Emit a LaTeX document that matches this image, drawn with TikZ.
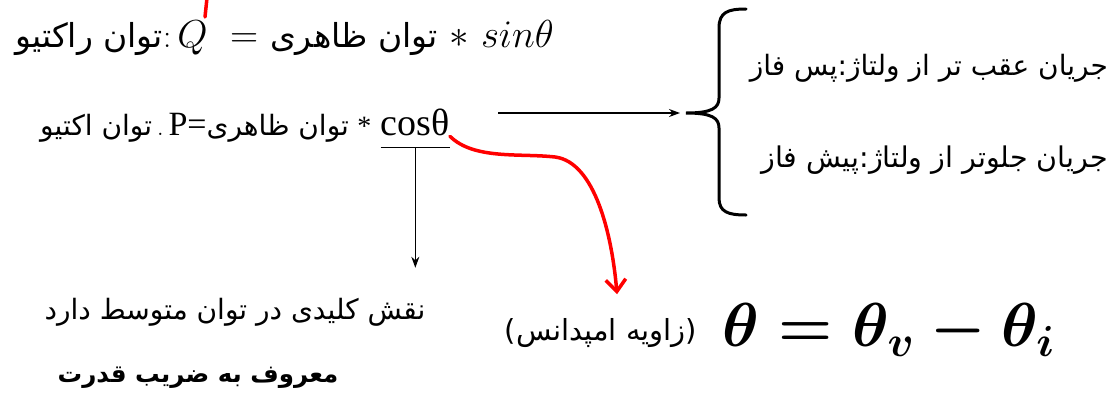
\RequirePackage{fix-cm}
\documentclass[tikz,border=0pt]{standalone}
\usepackage{amsmath}
\usepackage{fontspec}
\newfontfamily\arabicfont[Script=Arabic]{DejaVu Sans}
\newfontfamily\dejavufont{DejaVu Sans}
\newfontfamily\timesfont{Liberation Serif}
\TeXXeTstate=1
\newcommand{\fa}[1]{{\arabicfont\beginR #1\endR}}
\newcommand{\mfont}{\fontsize{39}{44}\selectfont}
\usetikzlibrary{positioning, arrows.meta, calc}

\begin{document}
\begin{tikzpicture}[x=1pt, y=-1pt,
		every node/.style={inner sep=0pt},
		arrowline/.style={-{Stealth[length=11pt,width=8pt]}, line width=1.2pt},
		redline/.style={red, line width=3.5pt, line cap=round},
		braceline/.style={line width=3pt, line cap=round}]
		\useasboundingbox (0,0) rectangle (1110,402);
		% Reactive power
		\node[anchor=west, font=\fontsize{33}{40}\selectfont] (reactive) at (15,38)
			{\fa{توان راکتیو}:\kern6pt{\mfont$Q\ =\ $}\fa{توان ظاهری}{\mfont$\ *\ sin\theta$}};
		\coordinate (qmark) at (207,-2);
		\draw[redline] (qmark) -- ++(-2,19);
		% Active power
		\node[anchor=west, font=\fontsize{28}{34}\selectfont] (active) at (40,128)
			{\fa{توان اکتیو}\,.\,{\timesfont\fontsize{34}{40}\selectfont P=}\fa{توان ظاهری}\ {\timesfont *}};
		\node[anchor=base west, font=\fontsize{38}{44}\selectfont\timesfont] (cosT) at ([xshift=9pt]active.base east) {cosθ};
		% Underline and arrow down
		\coordinate (ulmid) at ([yshift=-11pt]cosT.south);
		\draw[line width=1.2pt] ([yshift=-11pt]cosT.south west) -- ([yshift=-11pt]cosT.south east);
		% Lag / lead brace
		\coordinate (hstart) at (498,113);
		\coordinate (bracetip) at (686,113);
		\draw[arrowline, shorten >=6pt] (hstart) -- (bracetip);
		\draw[braceline] (746,9) .. controls (728,9) and (719,12) .. (719,28) -- (719,98)
			.. controls (719,108) and (712,113) .. (bracetip)
			.. controls (712,113) and (719,118) .. (719,128) -- (719,198)
			.. controls (719,212) and (728,215) .. (746,215);
		\node[anchor=east, font=\fontsize{28}{32}\selectfont] (lag) at (1108,68) {\fa{جریان عقب تر از ولتاژ:پس فاز}};
		\node[anchor=east, font=\fontsize{28.5}{32}\selectfont] (lead) at (1108,160) {\fa{جریان جلوتر از ولتاژ:پیش فاز}};
		% Power factor
		\node[font=\fontsize{28}{32}\selectfont] (avg) at (235,312) {\fa{نقش کلیدی در توان متوسط دارد}};
		\node[font=\fontsize{24.5}{28}\selectfont\bfseries] (pf) at (198,378) {\fa{معروف به ضریب قدرت}};
		\draw[arrowline, shorten >=30pt] (ulmid) -- (ulmid |- avg.north);
		% Impedance angle
		\node[font=\fontsize{29}{34}\selectfont] (imp) at (601,333)
			{{\dejavufont(}\fa{زاویه امپدانس}{\dejavufont)}};
		\node[anchor=west, font=\fontsize{62}{66}\selectfont] (theta) at (722,330) {{\boldmath$\theta=\theta_v-\theta_i$}};
		\draw[redline, -{Straight Barb[length=12pt,width=20pt]}] (cosT.south east)
			.. controls (474,160) and (520,153) .. (555,157)
			.. controls (595,162) and (612,235) .. ([xshift=16pt, yshift=24pt]imp.north);
	\end{tikzpicture}
\end{document}
